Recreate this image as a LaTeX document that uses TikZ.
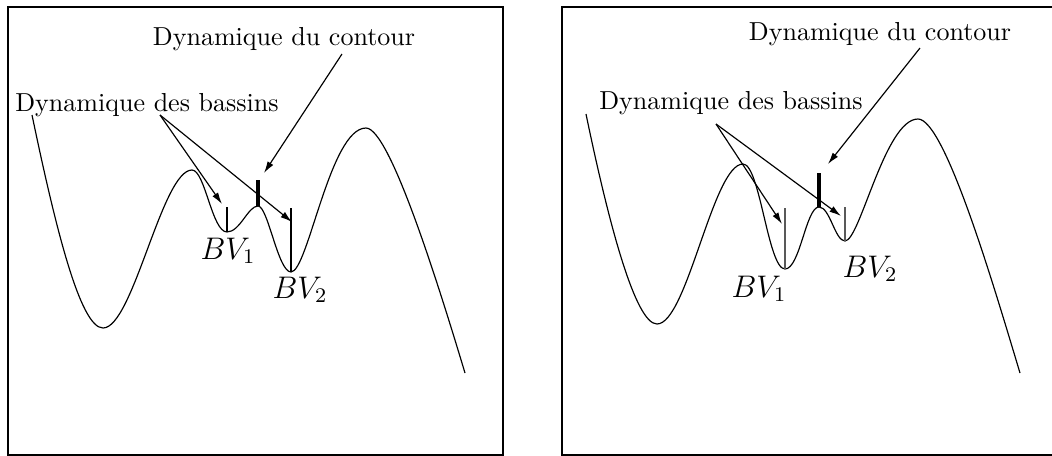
\documentclass[tikz,border=0pt]{standalone}
\usetikzlibrary{arrows.meta}
\begin{document}
\begin{tikzpicture}[x=0.0135cm,y=-0.0135cm,
  curve/.style={line width=0.45pt},
  frame/.style={line width=0.5pt},
  pointer/.style={line width=0.45pt,-{Latex[length=4.5pt,width=2.6pt]}},
  bar/.style={line width=1.7pt},
  tick/.style={line width=0.45pt},
  lbl/.style={inner sep=0pt,anchor=base},
  bv/.style={inner sep=0pt,anchor=base west,font=\large}]
\useasboundingbox (0,0) rectangle (1052,456);
% ---------- left panel ----------
\draw[frame] (8,7) rectangle (503,455);
\draw[curve] (32,115) .. controls (55,225) and (80,328) .. (103,328)
  .. controls (133,328) and (162,170) .. (192,170)
  .. controls (205,170) and (212,232) .. (227,232)
  .. controls (240,232) and (248,206) .. (258,206)
  .. controls (268,206) and (278,272) .. (291,272)
  .. controls (308,272) and (330,128) .. (366,128)
  .. controls (390,128) and (440,290) .. (465,373);
\coordinate (L1top) at (227,207); \coordinate (L1bot) at (227,232);
\coordinate (L2top) at (291,208); \coordinate (L2bot) at (291,272);
\coordinate (LBtop) at (258,180); \coordinate (LBbot) at (258,206);
\draw[tick] (L1top) -- (L1bot);
\draw[tick] (L2top) -- (L2bot);
\draw[bar] (LBtop) -- (LBbot);
\node[lbl] (Lcont) at (284,45) {Dynamique du contour};
\node[lbl] (Lbass) at (147,111) {Dynamique des bassins};
\node[bv] (LBV1) at (200,259) {$BV_1$};
\node[bv] (LBV2) at (272,298) {$BV_2$};
\coordinate (LcS) at (342,54); \coordinate (LcE) at (264,173);
\coordinate (LbS) at (160,115); \coordinate (Lb1) at (222,204); \coordinate (Lb2) at (292,222);
\draw[pointer] (LcS) -- (LcE);
\draw[pointer] (LbS) -- (Lb1);
\draw[pointer] (LbS) -- (Lb2);
% ---------- right panel ----------
\draw[frame] (1052,7) -- (562,7) -- (562,455) -- (1052,455);
\draw[curve] (586,114) .. controls (608,220) and (635,324) .. (657,324)
  .. controls (687,324) and (713,164) .. (743,164)
  .. controls (760,164) and (768,269) .. (785,269)
  .. controls (800,269) and (806,207) .. (819,207)
  .. controls (830,207) and (835,241) .. (845,241)
  .. controls (860,241) and (885,119) .. (918,119)
  .. controls (945,119) and (995,290) .. (1020,373);
\coordinate (R1top) at (785,208); \coordinate (R1bot) at (785,269);
\coordinate (R2top) at (845,207); \coordinate (R2bot) at (845,241);
\coordinate (RBtop) at (819,173); \coordinate (RBbot) at (819,207);
\draw[tick,black!65] (R1top) -- (R1bot);
\draw[tick,black!65] (R2top) -- (R2bot);
\draw[bar] (RBtop) -- (RBbot);
\node[lbl] (Rcont) at (880,40) {Dynamique du contour};
\node[lbl] (Rbass) at (731,109) {Dynamique des bassins};
\node[bv] (RBV1) at (731,297) {$BV_1$};
\node[bv] (RBV2) at (842,277) {$BV_2$};
\coordinate (RcS) at (920,48); \coordinate (RcE) at (828,164);
\coordinate (RbS) at (716,124); \coordinate (Rb1) at (782,224); \coordinate (Rb2) at (841,216);
\draw[pointer] (RcS) -- (RcE);
\draw[pointer] (RbS) -- (Rb1);
\draw[pointer] (RbS) -- (Rb2);
\end{tikzpicture}
\end{document}
